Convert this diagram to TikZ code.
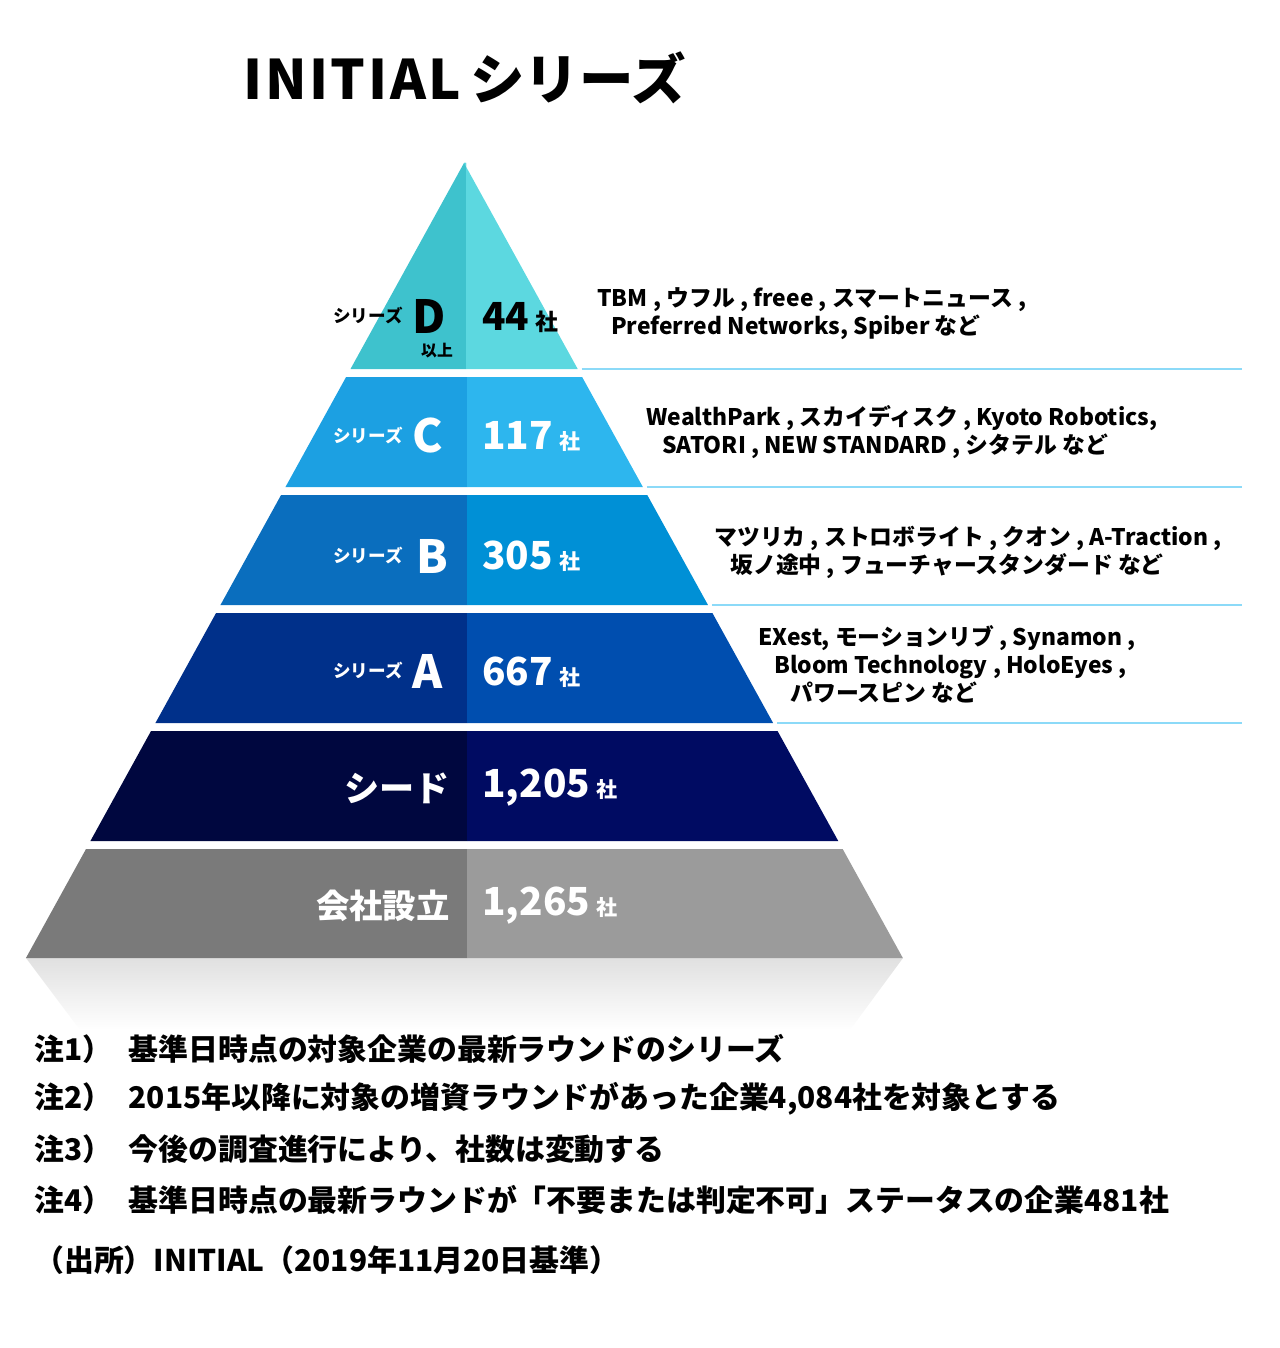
\documentclass[tikz,border=0pt]{standalone}
\usepackage{fontspec}
\setmainfont{Noto Sans CJK JP}
\begin{document}
\begin{tikzpicture}[x=0.02cm,y=-0.02cm,
  lab/.style={font=\fontsize{10}{12}\selectfont\bfseries,anchor=east,inner sep=0},
  big/.style={font=\fontsize{26}{28}\selectfont\bfseries,anchor=west,inner sep=0,text=white},
  num/.style={font=\fontsize{22}{26}\selectfont\bfseries,anchor=west,inner sep=0,text=white},
  desc/.style={font=\fontsize{13}{17}\selectfont\bfseries,align=left,anchor=west,inner sep=0},
  note/.style={font=\fontsize{17}{20}\selectfont\bfseries,anchor=west,inner sep=0},
  sep/.style={draw=cyan!45,line width=0.8pt}]
\useasboundingbox (0,0) rectangle (1280,1348);
\def\lx#1{464-0.551*(#1-163)}
\def\rx#1{464+0.552*(#1-163)}
\definecolor{dL}{HTML}{3EC2CD}\definecolor{dR}{HTML}{5CD8E0}
\definecolor{cL}{HTML}{1CA0E2}\definecolor{cR}{HTML}{2DB6EE}
\definecolor{bL}{HTML}{0A6EBE}\definecolor{bR}{HTML}{0090D6}
\definecolor{aL}{HTML}{00308A}\definecolor{aR}{HTML}{004EAF}
\definecolor{sL}{HTML}{00073F}\definecolor{sR}{HTML}{000B62}
\definecolor{fL}{HTML}{7A7A7A}\definecolor{fR}{HTML}{9B9B9B}
\shade[top color=black!12,bottom color=white] (26,958) -- (903,958) -- (850,1030) -- (80,1030) -- cycle;
\fill[dL] (464,163) -- (466,163) -- (466,369) -- ({\lx{369}},369) -- cycle;
\fill[dR] (464,163) -- ({\rx{369}},369) -- (466,369) -- (466,163) -- cycle;
\foreach \t/\b/\cl/\cr in {377/487/cL/cR,495/605/bL/bR,613/723/aL/aR,731/841/sL/sR,849/958/fL/fR}{
  \fill[\cl] ({\lx{\t}},\t) -- (467,\t) -- (467,\b) -- ({\lx{\b}},\b) -- cycle;
  \fill[\cr] (467,\t) -- ({\rx{\t}},\t) -- ({\rx{\b}},\b) -- (467,\b) -- cycle;
}
\foreach \y in {369,487,605,723}{ \draw[sep] ({\rx{\y}+4},\y) -- (1242,\y); }
\node[anchor=west,inner sep=0,font=\fontsize{31}{36}\selectfont\bfseries] (title) at (243,78) {I\kern1.5pt N\kern1.5pt I\kern1.5pt T\kern1.5pt I\kern1.5pt A\kern1.5pt L\,シリーズ};
\node[lab] (ld) at (403,316) {シリーズ};
\node[big,text=black] (bd) at (412,316) {D};
\node[inner sep=0,font=\fontsize{9}{10}\selectfont\bfseries] (ijo) at (437,351) {以上};
\node[num,text=black] (nd) at (482,318) {44\,{\fontsize{13}{14}\selectfont 社}};
\node[lab,text=white] (lc) at (403,436) {シリーズ};
\node[big] (bc) at (412,436) {C};
\node[num] (nc) at (482,436) {117\,{\fontsize{12}{14}\selectfont 社}};
\node[lab,text=white] (lb) at (403,556) {シリーズ};
\node[big] (bb) at (416,556) {B};
\node[num] (nb) at (482,556) {305\,{\fontsize{12}{14}\selectfont 社}};
\node[lab,text=white] (la) at (403,671) {シリーズ};
\node[big] (ba) at (412,671) {A};
\node[num] (na) at (482,672) {667\,{\fontsize{12}{14}\selectfont 社}};
\node[anchor=east,inner sep=0,text=white,font=\fontsize{20}{22}\selectfont\bfseries] (ls) at (450,788) {シード};
\node[num] (ns) at (482,788) {1,205\,{\fontsize{12}{14}\selectfont 社}};
\node[anchor=east,inner sep=0,text=white,font=\fontsize{19}{22}\selectfont\bfseries] (lf) at (450,906) {会社設立};
\node[num] (nf) at (482,906) {1,265\,{\fontsize{12}{14}\selectfont 社}};
\node[desc] (dd) at (597,314) {TBM , ウフル , freee , スマートニュース ,\\[-1pt]\hspace{0.6em}Preferred Networks, Spiber など};
\node[desc] (dc) at (646,432) {WealthPark , スカイディスク , Kyoto Robotics,\\[-1pt]\hspace{0.7em}SATORI , NEW STANDARD , シタテル など};
\node[desc] (db) at (714,552) {マツリカ , ストロボライト , クオン , A-Traction ,\\[-1pt]\hspace{0.7em}坂ノ途中 , フューチャースタンダード など};
\node[desc] (da) at (758,664) {EXest, モーションリブ , Synamon ,\\[-1pt]\hspace{0.7em}Bloom Technology , HoloEyes ,\\[-1pt]\hspace{1.4em}パワースピン など};
\node[note] (n1) at (34,1049) {注1）\hspace{0.55em}基準日時点の対象企業の最新ラウンドのシリーズ};
\node[note] (n2) at (34,1099) {注2）\hspace{0.55em}2015年以降に対象の増資ラウンドがあった企業4,084社を対象とする};
\node[note] (n3) at (34,1149) {注3）\hspace{0.55em}今後の調査進行により、社数は変動する};
\node[note] (n4) at (34,1200) {注4）\hspace{0.55em}基準日時点の最新ラウンドが「不要または判定不可」ステータスの企業481社};
\node[note] (n5) at (34,1260) {（出所）INITIAL（2019年11月20日基準）};
\end{tikzpicture}
\end{document}
